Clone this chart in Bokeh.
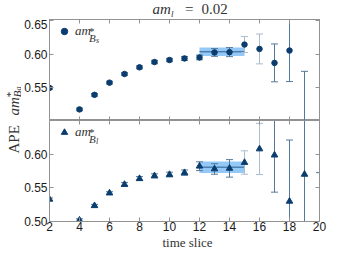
import numpy as np
from bokeh.plotting import figure
from bokeh.models import (Range1d, LinearAxis, FixedTicker, Whisker, TeeHead,
                          ColumnDataSource, Label, Legend, LegendItem, PrintfTickFormatter)
from bokeh.layouts import column, row
from bokeh.embed import file_html
from bokeh.resources import INLINE

# ---------------- data ----------------
t_s = [2, 4, 5, 6, 7, 8, 9, 10, 11, 12, 13, 14, 15, 16, 17, 18, 19]
bs = [0.549, 0.5167, 0.5386, 0.557, 0.570, 0.580, 0.588, 0.591, 0.5934, 0.5949,
      0.6024, 0.6029, 0.6143, 0.6077, 0.5867, 0.6053, 0.46]
bs_err = [0.002, 0.002, 0.002, 0.002, 0.002, 0.0022, 0.0025, 0.0025, 0.003, 0.0035,
          0.0058, 0.0068, 0.012, 0.0225, 0.0285, 0.0467, 0.114]

t_l = [2, 4, 5, 6, 7, 8, 9, 10, 11, 12, 13, 14, 15, 16, 17, 18, 19, 20]
bl = [0.533, 0.502, 0.5234, 0.5422, 0.555, 0.5637, 0.5678, 0.5697, 0.5725, 0.5821,
      0.578, 0.5789, 0.5876, 0.6077, 0.5986, 0.530, 0.570, 0.45]
bl_err = [0.002, 0.002, 0.002, 0.002, 0.003, 0.003, 0.003, 0.0035, 0.004, 0.0065,
          0.0078, 0.013, 0.0174, 0.038, 0.055, 0.091, 0.11, 0.1226]

fit_t = [12, 15]
fit_bs, fit_bs_err = 0.6034, 0.0063
fit_bl, fit_bl_err = 0.5807, 0.0085

x_ticks = [2, 4, 6, 8, 10, 12, 14, 16, 18, 20]
y_ticks_s = [0.55, 0.60, 0.65]
y_ticks_l = [0.50, 0.55, 0.60]
light_err_t = [15, 16]

# ---------------- style ----------------
FRAME = "#929292"
TXT = "#333333"
MK = "#0a3d6e"
ERR_DARK = "#55799c"
ERR_LIGHT = "#a9bcd0"
BAND = "#8ec5f5"
FITLINE = "#2a5b8c"
LW = 21                   # width of the strip holding the y label
W = 337 - LW
FL, FR = 26, 18           # left / right borders of the panels
FW = W - FL - FR          # frame width 272
H = 249
TITLE_H = 19
TOP_H = 101
BOT_B = 14
BOT_H = 101 + BOT_B
XL_H = H - TITLE_H - TOP_H - BOT_H   # 14


def style_axis(ax, ticks, labels, fmt=None):
    ax.ticker = FixedTicker(ticks=ticks, minor_ticks=[])
    ax.major_tick_in = 4
    ax.major_tick_out = 0
    ax.minor_tick_in = 0
    ax.minor_tick_out = 0
    ax.axis_line_color = FRAME
    ax.major_tick_line_color = FRAME
    ax.axis_label = None
    if labels:
        ax.major_label_text_font = "Liberation Sans"
        ax.major_label_text_font_size = "12px"
        ax.major_label_text_color = "#1a1a1a"
        if fmt:
            ax.formatter = PrintfTickFormatter(format=fmt)
    else:
        ax.major_label_text_color = None
        ax.major_label_text_font_size = "0px"
        ax.major_label_standoff = 0


def make_fig(height, ymax, border_bottom):
    p = figure(width=W, height=height, x_range=Range1d(2, 20), y_range=Range1d(0.50, ymax),
               output_backend="svg", toolbar_location=None,
               min_border_left=FL, min_border_right=FR,
               min_border_top=0, min_border_bottom=border_bottom)
    p.grid.visible = False
    p.outline_line_color = FRAME
    p.background_fill_color = "white"
    p.border_fill_color = "white"
    return p


def strip(width, height):
    s = figure(width=width, height=height, x_range=Range1d(0, 1), y_range=Range1d(0, 1),
               output_backend="svg", toolbar_location=None, x_axis_type=None, y_axis_type=None,
               min_border_left=0, min_border_right=0, min_border_top=0, min_border_bottom=0)
    s.grid.visible = False
    s.outline_line_color = None
    s.background_fill_color = "white"
    s.border_fill_color = "white"
    return s


def add_errors(p, t, v, e):
    for light in (False, True):
        idx = [i for i, tt in enumerate(t) if (tt in light_err_t) == light]
        src = ColumnDataSource(dict(t=[t[i] for i in idx],
                                    lo=[v[i] - e[i] for i in idx],
                                    hi=[v[i] + e[i] for i in idx]))
        col = ERR_LIGHT if light else ERR_DARK
        w = Whisker(source=src, base="t", lower="lo", upper="hi",
                    line_color=col, line_width=1, level="underlay",
                    upper_head=TeeHead(size=7, line_color=col, line_width=1),
                    lower_head=TeeHead(size=7, line_color=col, line_width=1))
        p.add_layout(w)


def add_band(p, c, e):
    p.quad(left=[fit_t[0]], right=[fit_t[1]], bottom=[c - e], top=[c + e],
           fill_color=BAND, fill_alpha=0.95, line_color=None, level="underlay")
    p.line(x=fit_t, y=[c, c], line_color=FITLINE, line_width=1, level="underlay")


def lab(p, x, y, text, size, italic=True, angle=0.0, align="left", base="alphabetic"):
    p.add_layout(Label(x=x, y=y, x_units="screen", y_units="screen", text=text,
                       text_font="Liberation Serif",
                       text_font_style="italic" if italic else "normal",
                       text_font_size=f"{size}px", text_color=TXT,
                       text_baseline=base, text_align=align, angle=angle))


def add_legend(p, renderer, fh, sub2):
    leg = Legend(items=[LegendItem(label="am", renderers=[renderer])],
                 location="top_left", margin=0, padding=4, spacing=0,
                 glyph_width=22, glyph_height=16, label_standoff=-3,
                 label_text_font="Liberation Serif", label_text_font_style="italic",
                 label_text_font_size="13px", label_text_color=TXT,
                 background_fill_alpha=0, border_line_alpha=0)
    p.add_layout(leg)
    base = 15.8  # baseline of "am" below frame top
    lab(p, 39.5, fh - (base - 4.0), "*", 11, italic=False)
    lab(p, 39.5, fh - (base + 3.0), "B", 11)
    lab(p, 46.5, fh - (base + 5.0), sub2, 8)


# ---------------- title strip: am_l = 0.02 ----------------
# (the column aligns this strip's frame with the panels' frames)
ttl = strip(W, TITLE_H)
lab(ttl, 103, 10.1, "am", 15, base="middle")
lab(ttl, 121.5, 5.05, "l", 9, base="middle")
lab(ttl, 135.5, 10.1, "=", 15, italic=False, base="middle")
lab(ttl, 152, 10.1, "0.02", 15, italic=False, base="middle")

# ---------------- top panel ----------------
top = make_fig(TOP_H, 0.652, 0)
add_band(top, fit_bs, fit_bs_err)
add_errors(top, t_s, bs, bs_err)
sc_s = top.scatter(t_s, bs, marker="circle", size=5.5, fill_color=MK, line_color=MK)
style_axis(top.xaxis[0], x_ticks, False)
style_axis(top.yaxis[0], y_ticks_s, True, "%.2f")
top.yaxis[0].major_label_standoff = 2
ax = LinearAxis(); style_axis(ax, x_ticks, False); top.add_layout(ax, "above")
ax = LinearAxis(); style_axis(ax, y_ticks_s, False); top.add_layout(ax, "right")
add_legend(top, sc_s, TOP_H, "s")

# ---------------- bottom panel ----------------
bot = make_fig(BOT_H, 0.65, BOT_B)
add_band(bot, fit_bl, fit_bl_err)
add_errors(bot, t_l, bl, bl_err)
sc_l = bot.scatter(t_l, bl, marker="triangle", size=6.5, fill_color=MK, line_color=MK)
style_axis(bot.xaxis[0], x_ticks, True)
bot.xaxis[0].major_label_standoff = 0
style_axis(bot.yaxis[0], y_ticks_l, True, "%.2f")
bot.yaxis[0].major_label_standoff = 2
ax = LinearAxis(); style_axis(ax, x_ticks, False); bot.add_layout(ax, "above")
ax = LinearAxis(); style_axis(ax, y_ticks_l, False); bot.add_layout(ax, "right")
add_legend(bot, sc_l, BOT_H - BOT_B, "l")

# ---------------- x label strip ----------------
xl = strip(W, XL_H)
lab(xl, 138, 7, "time slice", 13, italic=False, align="center", base="middle")

# ---------------- y label strip: APE am*_{B_q} ----------------
ylab = strip(LW, H)
ang = np.pi / 2
lab(ylab, 13, H - 153, "APE", 15, italic=False, angle=ang)
lab(ylab, 13, H - 115, "am", 15, angle=ang)
lab(ylab, 9, H - 96.7, "*", 11, italic=False, angle=ang)
lab(ylab, 16, H - 96.7, "B", 11, angle=ang)
lab(ylab, 17.5, H - 90, "q", 8, angle=ang)

layout = row(ylab, column(ttl, top, bot, xl, spacing=0), spacing=0)
open("out.html", "w").write(file_html(layout, INLINE))
